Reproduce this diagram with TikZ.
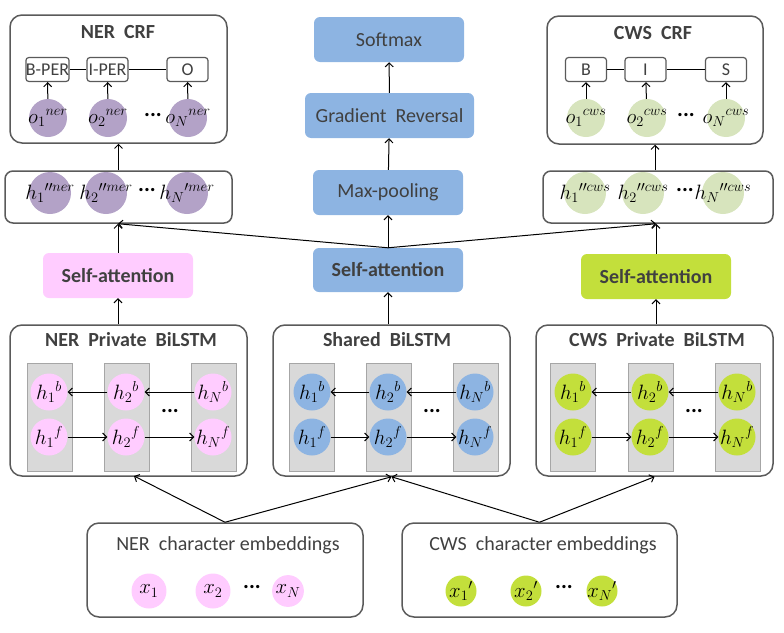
\documentclass[tikz,border=0pt]{standalone}
\usepackage{fontspec}
\setmainfont{Carlito}
\usetikzlibrary{arrows.meta}
\definecolor{txt}{HTML}{404040}
\definecolor{edge}{HTML}{5A5A5A}
\definecolor{purp}{HTML}{B3A2C7}
\definecolor{pinkc}{HTML}{FFCCFF}
\definecolor{bluec}{HTML}{8DB4E2}
\definecolor{limec}{HTML}{C3DF3B}
\definecolor{sagec}{HTML}{D7E4BD}
\definecolor{colg}{HTML}{D9D9D9}
\begin{document}
\begin{tikzpicture}[x=1pt,y=-1pt,>={Straight Barb[length=4pt,width=8pt]},
  font=\fontsize{20}{24}\selectfont,text=txt,
  panel/.style={draw=edge,line width=1.5pt,rounded corners=12pt,inner sep=0},
  tag/.style={draw=edge,line width=1.2pt,rounded corners=3pt,minimum width=41pt,minimum height=24pt,inner sep=0,font=\fontsize{18}{20}\selectfont},
  blk/.style={fill=#1,rounded corners=6pt,minimum width=150pt,minimum height=45pt,inner sep=0},
  ball/.style={circle,fill=#1,inner sep=-20pt,minimum size=38pt,text=black,font=\fontsize{21}{24}\selectfont},
  col/.style={fill=colg,draw=gray!70,line width=.6pt,minimum width=45pt,minimum height=108pt,inner sep=0},
  title/.style={font=\bfseries\fontsize{20}{24}\selectfont},
  dots/.style={text=black,font=\bfseries\fontsize{22}{24}\selectfont},
  link/.style={->,line width=1pt}]
\useasboundingbox (0,0) rectangle (784,632);
% CRF layers
\node[panel,minimum width=217pt,minimum height=128pt] (nercrf) at (118.5,79) {};
\node[title] at (118,32) {NER\ \ CRF};
\node[tag] (nt1) at (47.5,69.5) {B-PER};
\node[tag] (nt2) at (107.5,69.5) {I-PER};
\node[tag] (nt3) at (187.5,69.5) {O};
\draw[line width=1.2pt] (nt1) -- (nt2) (nt2) -- (nt3);
\node[ball=purp] (no1) at (48,118) {$o_1{}^{ner}$};
\node[ball=purp] (no2) at (108,118) {$o_2{}^{ner}$};
\node[ball=purp] (no3) at (188,118) {$o_N{}^{ner}$};
\node[dots] at (153,115) {...};
\foreach \i in {1,2,3} \draw[link] (no\i) -- (nt\i);
\node[panel,minimum width=216pt,minimum height=128pt] (cwscrf) at (655,80) {};
\node[title] at (653,33) {CWS\ \ CRF};
\node[tag] (ct1) at (586,69.5) {B};
\node[tag] (ct2) at (645.5,69.5) {I};
\node[tag] (ct3) at (726,69.5) {S};
\draw[line width=1.2pt] (ct1) -- (ct2) (ct2) -- (ct3);
\node[ball=sagec] (co1) at (586,118) {$o_1{}^{cws}$};
\node[ball=sagec] (co2) at (647,118) {$o_2{}^{cws}$};
\node[ball=sagec] (co3) at (726,118) {$o_N{}^{cws}$};
\node[dots] at (686,115) {...};
\foreach \i in {1,2,3} \draw[link] (co\i) -- (ct\i);
% concatenated states
\node[panel,rounded corners=8pt,minimum width=227pt,minimum height=52pt] (nerh) at (118.5,197) {};
\node[ball=purp,minimum size=42pt] at (50,193) {$h_1{}^{\prime\prime ner}$};
\node[ball=purp,minimum size=42pt] at (106,193) {$h_2{}^{\prime\prime mer}$};
\node[ball=purp,minimum size=42pt] at (187,193) {$h_N{}^{\prime mer}$};
\node[dots] at (147,190) {...};
\node[panel,rounded corners=8pt,minimum width=230pt,minimum height=52pt] (cwsh) at (658,197) {};
\node[ball=sagec,minimum size=42pt] at (585,193) {$h_1{}^{\prime\prime cws}$};
\node[ball=sagec,minimum size=42pt] at (643,193) {$h_2{}^{\prime\prime cws}$};
\node[ball=sagec,minimum size=42pt] at (723,193) {$h_N{}^{\prime\prime cws}$};
\node[dots] at (685,190) {...};
\draw[link] (nercrf.south |- nerh.north) -- (nercrf.south);
\draw[link] (cwscrf.south |- cwsh.north) -- (cwscrf.south);
% adversarial part
\node[blk=bluec] (soft) at (389,39.5) {Softmax};
\node[blk=bluec,minimum width=169pt] (grad) at (389.5,115.5) {Gradient\ \ Reversal};
\node[blk=bluec] (pool) at (388,192.5) {Max-pooling};
\draw[link] (grad) -- (soft);
\draw[link] (pool) -- (grad);
% self-attention
\node[blk=pinkc,title] (neratt) at (118,275.5) {Self-attention};
\node[blk=bluec,title,minimum height=44pt] (shatt) at (388,270) {Self-attention};
\node[blk=limec,title] (cwsatt) at (656,276.5) {Self-attention};
\draw[link] (shatt) -- (pool);
\draw[link] (shatt.north) -- (neratt.north |- nerh.south);
\draw[link] (shatt.north) -- (cwsatt.north |- cwsh.south);
\draw[link] (neratt) -- (neratt.north |- nerh.south);
\draw[link] (cwsatt) -- (cwsatt.north |- cwsh.south);
% BiLSTM layers
\node[panel,minimum width=237pt,minimum height=151pt] (nerlstm) at (128.5,400.5) {};
\node[title] at (131,340) {NER\ \ Private\ \ BiLSTM};
\foreach \x in {49.5,126.5,213.5} \node[col] at (\x,417) {};
\foreach \x/\n in {49/1,126/2,213/N} {
  \node[ball=pinkc,minimum size=37pt] (nb\n) at (\x,392) {$h_\n{}^{b}$};
  \node[ball=pinkc,minimum size=37pt] (nf\n) at (\x,437) {$h_\n{}^{f}$};
}
\node[dots] at (170,411) {...};
\draw[link] (nbN) -- (nb2); \draw[link] (nb2) -- (nb1);
\draw[link] (nf1) -- (nf2); \draw[link] (nf2) -- (nfN);
\node[panel,minimum width=237pt,minimum height=151pt] (shlstm) at (391.5,400.5) {};
\node[title] at (387,340) {Shared\ \ BiLSTM};
\foreach \x in {311.5,388.5,475.5} \node[col] at (\x,417) {};
\foreach \x/\n in {312/1,388/2,475/N} {
  \node[ball=bluec,minimum size=37pt] (sb\n) at (\x,392) {$h_\n{}^{b}$};
  \node[ball=bluec,minimum size=37pt] (sf\n) at (\x,437) {$h_\n{}^{f}$};
}
\node[dots] at (432,411) {...};
\draw[link] (sbN) -- (sb2); \draw[link] (sb2) -- (sb1);
\draw[link] (sf1) -- (sf2); \draw[link] (sf2) -- (sfN);
\node[panel,minimum width=237pt,minimum height=151pt] (cwslstm) at (654.5,400.5) {};
\node[title] at (657,340) {CWS\ \ Private\ \ BiLSTM};
\foreach \x in {573,650.5,737.5} \node[col] at (\x,417) {};
\foreach \x/\n in {573/1,650/2,737/N} {
  \node[ball=limec,minimum size=37pt] (cb\n) at (\x,392) {$h_\n{}^{b}$};
  \node[ball=limec,minimum size=37pt] (cf\n) at (\x,437) {$h_\n{}^{f}$};
}
\node[dots] at (694,411) {...};
\draw[link] (cbN) -- (cb2); \draw[link] (cb2) -- (cb1);
\draw[link] (cf1) -- (cf2); \draw[link] (cf2) -- (cfN);
\draw[link] (neratt.south |- nerlstm.north) -- (neratt);
\draw[link] (shatt.south |- shlstm.north) -- (shatt);
\draw[link] (cwsatt.south |- cwslstm.north) -- (cwsatt);
% embeddings
\node[panel,minimum width=276pt,minimum height=94pt] (neremb) at (225,570) {};
\node at (228,545) {NER\ \ character embeddings};
\node[ball=pinkc,minimum size=31pt,font=\fontsize{20}{22}\selectfont] at (149,591) {$x_1$};
\node[ball=pinkc,minimum size=31pt,font=\fontsize{20}{22}\selectfont] at (213,591) {$x_2$};
\node[ball=pinkc,minimum size=31pt,font=\fontsize{20}{22}\selectfont] at (288,591) {$x_N$};
\node[dots] at (252,587) {...};
\node[panel,minimum width=275pt,minimum height=94pt] (cwsemb) at (539.5,570) {};
\node at (543,545) {CWS\ \ character embeddings};
\node[ball=limec,minimum size=31pt,font=\fontsize{20}{22}\selectfont] at (461,591) {$x_1{}'$};
\node[ball=limec,minimum size=31pt,font=\fontsize{20}{22}\selectfont] at (526,591) {$x_2{}'$};
\node[ball=limec,minimum size=31pt,font=\fontsize{20}{22}\selectfont] at (602,591) {$x_N{}'$};
\node[dots] at (564,587) {...};
\coordinate (nerin) at (134,476);
\draw[link] (neremb.north) -- (nerin);
\draw[link] (neremb.north) -- (shlstm.south);
\draw[link] (cwsemb.north) -- (shlstm.south);
\draw[link] (cwsemb.north) -- (cwslstm.south);
\end{tikzpicture}
\end{document}
